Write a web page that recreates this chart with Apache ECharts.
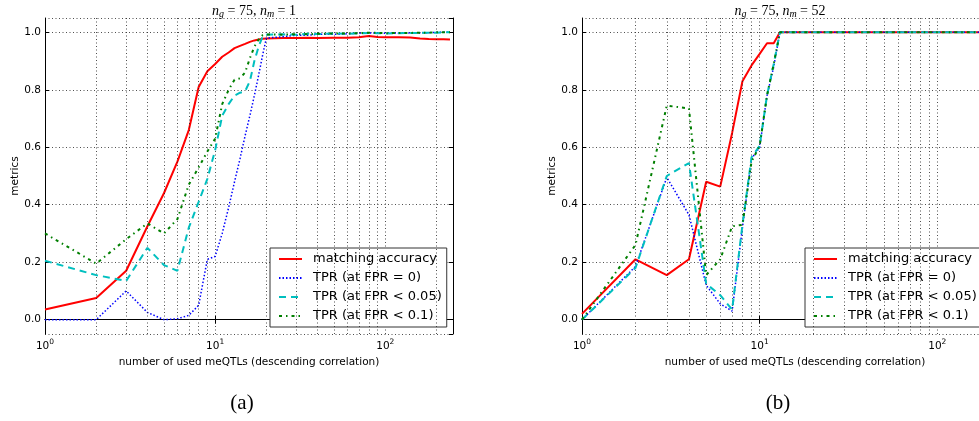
<!DOCTYPE html>
<html>
<head>
<meta charset="utf-8">
<script src="https://cdn.jsdelivr.net/npm/echarts@6/dist/echarts.min.js"></script>
<style>
  html, body { margin: 0; padding: 0; background: #fff; }
  #chart { width: 979px; height: 421px; }
</style>
</head>
<body>
<div id="chart"></div>
<script>
// ---- data -------------------------------------------------------------
// (a) n_g = 75, n_m = 1
const nA = [1, 2, 3, 4, 5, 6, 7, 8, 9, 10, 11, 12, 13, 14, 15, 16, 17, 18, 19, 20,
            25, 30, 35, 40, 50, 60, 70, 80, 90, 100, 120, 140, 160, 180, 200, 220, 240];
const accA = [0.035, 0.075, 0.17, 0.325, 0.44, 0.55, 0.66, 0.81, 0.865, 0.89,
              0.915, 0.93, 0.945, 0.953, 0.96, 0.967, 0.972, 0.975, 0.978, 0.979,
              0.98, 0.98, 0.981, 0.98, 0.981, 0.981, 0.983, 0.987, 0.984, 0.983,
              0.983, 0.982, 0.979, 0.977, 0.976, 0.976, 0.975];
const tpr0A = [0.0, 0.0, 0.10, 0.025, 0.0, 0.003, 0.015, 0.05, 0.21, 0.22,
               0.30, 0.39, 0.48, 0.56, 0.64, 0.71, 0.78, 0.85, 0.92, 0.98,
               0.985, 0.99, 0.99, 0.993, 0.993, 0.995, 0.997, 0.998, 0.998, 0.997,
               0.997, 0.998, 0.998, 0.999, 1.0, 1.0, 1.0];
const tpr05A = [0.205, 0.155, 0.135, 0.25, 0.19, 0.17, 0.32, 0.41, 0.49, 0.59,
                0.71, 0.75, 0.78, 0.79, 0.795, 0.83, 0.90, 0.95, 0.985, 0.992,
                0.993, 0.992, 0.995, 0.994, 0.996, 0.995, 0.997, 0.998, 0.997, 0.996,
                0.997, 0.998, 0.998, 0.999, 0.999, 1.0, 1.0];
const tpr1A = [0.30, 0.195, 0.28, 0.335, 0.30, 0.35, 0.47, 0.53, 0.585, 0.63,
               0.75, 0.80, 0.835, 0.84, 0.86, 0.91, 0.95, 0.975, 0.99, 0.993,
               0.992, 0.994, 0.993, 0.995, 0.996, 0.996, 0.997, 0.999, 0.998, 0.997,
               0.998, 0.998, 0.999, 0.999, 1.0, 1.0, 1.0];

// (b) n_g = 75, n_m = 52
const nB = [1, 2, 3, 4, 5, 6, 7, 8, 9, 10, 11, 12, 13, 15, 20, 30, 50, 100, 150, 200, 240];
const accB = [0.02, 0.21, 0.155, 0.21, 0.48, 0.463, 0.65, 0.83, 0.885, 0.925,
              0.962, 0.962, 1.0, 1.0, 1.0, 1.0, 1.0, 1.0, 1.0, 1.0, 1.0];
const tpr0B = [0.0, 0.185, 0.495, 0.365, 0.12, 0.055, 0.03, 0.32, 0.56, 0.60,
               0.78, 0.88, 1.0, 1.0, 1.0, 1.0, 1.0, 1.0, 1.0, 1.0, 1.0];
const tpr05B = [0.0, 0.18, 0.50, 0.545, 0.125, 0.085, 0.035, 0.33, 0.565, 0.605,
                0.78, 0.89, 1.0, 1.0, 1.0, 1.0, 1.0, 1.0, 1.0, 1.0, 1.0];
const tpr1B = [0.0, 0.26, 0.745, 0.735, 0.155, 0.21, 0.325, 0.33, 0.55, 0.605,
               0.78, 0.89, 1.0, 1.0, 1.0, 1.0, 1.0, 1.0, 1.0, 1.0, 1.0];

const seriesNames = ['matching accuracy', 'TPR (at FPR = 0)', 'TPR (at FPR < 0.05)', 'TPR (at FPR < 0.1)'];
const minorTicks = [2, 3, 4, 5, 6, 7, 8, 9, 20, 30, 40, 50, 60, 70, 80, 90, 200];
const xName = 'number of used meQTLs (descending correlation)';
const yName = 'metrics';

// ---- styling ----------------------------------------------------------
const FONT = 'DejaVu Sans';
const SERIF = 'Liberation Serif';
const styles = [
  { color: '#ff0000', width: 2, type: 'solid' },
  { color: '#0000ff', width: 1.5, type: [1.5, 2] },
  { color: '#00bfbf', width: 2, type: [7, 5] },
  { color: '#007f00', width: 2, type: [3, 4, 1.5, 4] }
];
const gridDot = { color: '#222', width: 0.8, type: [1, 2.5] };

function pair(xs, ys) { return xs.map((x, i) => [x, ys[i]]); }

function logLabel(v) {
  const e = Math.log10(v);
  if (Math.abs(e - Math.round(e)) < 1e-9) return '{b|10}{s|' + Math.round(e) + '}';
  return '';
}

function xAxes(gridIndex) {
  const base = {
    type: 'log', logBase: 10, min: 1, max: 250, gridIndex,
    axisLine: { show: true, lineStyle: { color: '#000', width: 1 } },
    axisTick: { show: true, inside: true, length: 4, lineStyle: { color: '#000' } }
  };
  return [
    Object.assign({}, base, {
      position: 'bottom',
      name: xName, nameLocation: 'middle', nameGap: 18,
      nameTextStyle: { fontFamily: FONT, fontSize: 10.5, color: '#000' },
      axisLabel: {
        formatter: logLabel, margin: 4, color: '#000',
        rich: {
          b: { fontFamily: FONT, fontSize: 10.5, color: '#000', verticalAlign: 'bottom' },
          s: { fontFamily: FONT, fontSize: 7.5, color: '#000', verticalAlign: 'bottom', padding: [0, 0, 6, 0] }
        }
      },
      splitLine: { show: true, lineStyle: gridDot }
    }),
    Object.assign({}, base, {
      position: 'top', axisLabel: { show: false }, splitLine: { show: false }
    })
  ];
}

function yAxes(gridIndex) {
  const base = {
    type: 'value', min: -0.05, max: 1.05, splitNumber: 5, gridIndex,
    axisLine: { show: true, lineStyle: { color: '#000', width: 1 } },
    axisTick: { show: true, inside: true, length: 4, lineStyle: { color: '#000' } }
  };
  return [
    Object.assign({}, base, {
      position: 'left',
      name: yName, nameLocation: 'middle', nameGap: 23, nameRotate: 90,
      nameTextStyle: { fontFamily: FONT, fontSize: 10.5, color: '#000' },
      axisLabel: {
        margin: 4, fontFamily: FONT, fontSize: 10.5, color: '#000',
        showMinLabel: false, showMaxLabel: false,
        formatter: v => (Math.abs(v * 5 - Math.round(v * 5)) < 1e-9 ? v.toFixed(1) : '')
      },
      splitLine: { show: true, lineStyle: gridDot }
    }),
    Object.assign({}, base, {
      position: 'right', axisLabel: { show: false }, splitLine: { show: false }
    })
  ];
}

function panelSeries(axisBase, xs, cols) {
  const out = cols.map((ys, k) => ({
    type: 'line', name: seriesNames[k],
    xAxisIndex: axisBase, yAxisIndex: axisBase,
    data: pair(xs, ys), symbol: 'none', animation: false,
    lineStyle: styles[k], itemStyle: { color: styles[k].color },
    z: 3 + k
  }));
  // minor vertical grid lines of the log axis
  out.push({
    type: 'line', name: 'minor grid', xAxisIndex: axisBase, yAxisIndex: axisBase,
    data: [], silent: true, animation: false,
    markLine: {
      silent: true, symbol: 'none', label: { show: false }, animation: false,
      lineStyle: gridDot, emphasis: { disabled: true },
      data: minorTicks.map(v => ({ xAxis: v }))
    }
  });
  return out;
}

function legendAt(left) {
  return {
    data: seriesNames, orient: 'vertical', left, top: 248,
    itemWidth: 23, itemHeight: 14, itemGap: 5,
    padding: [4, 5, 4, 8],
    backgroundColor: '#fff', borderColor: '#333', borderWidth: 1, borderRadius: 0,
    selectedMode: false,
    itemStyle: { opacity: 0 },
    textStyle: { fontFamily: FONT, fontSize: 13, color: '#000', lineHeight: 14, padding: [0, 0, 0, 6] }
  };
}

function titleRich() {
  return {
    i: { fontFamily: SERIF, fontStyle: 'italic', fontWeight: 'normal', fontSize: 14, color: '#000' },
    s: { fontFamily: SERIF, fontStyle: 'italic', fontWeight: 'normal', fontSize: 10, color: '#000', padding: [5, 0, 0, 0] },
    r: { fontFamily: SERIF, fontWeight: 'normal', fontSize: 14, color: '#000' }
  };
}

const chart = echarts.init(document.getElementById('chart'), null, { renderer: 'canvas' });
chart.setOption({
  backgroundColor: '#fff',
  animation: false,
  title: [
    { text: '{i|n}{s|g}{r| = 75, }{i|n}{s|m}{r| = 1}', left: 249, top: -1, textAlign: 'center',
      textStyle: { fontWeight: 'normal', rich: titleRich() } },
    { text: '{i|n}{s|g}{r| = 75, }{i|n}{s|m}{r| = 52}', left: 775, top: -1, textAlign: 'center',
      textStyle: { fontWeight: 'normal', rich: titleRich() } },
    { text: '(a)', left: 237, top: 388, textAlign: 'center',
      textStyle: { fontFamily: SERIF, fontSize: 21, fontWeight: 'normal', color: '#000' } },
    { text: '(b)', left: 773, top: 388, textAlign: 'center',
      textStyle: { fontFamily: SERIF, fontSize: 21, fontWeight: 'normal', color: '#000' } }
  ],
  grid: [
    { left: 45, top: 18, width: 408, height: 316, outerBoundsMode: 'none', containLabel: false },
    { left: 582, top: 18, width: 426, height: 316, outerBoundsMode: 'none', containLabel: false }
  ],
  xAxis: [...xAxes(0), ...xAxes(1)].map((a, i) => i < 2 ? a : Object.assign(a, { gridIndex: 1 })),
  yAxis: [...yAxes(0), ...yAxes(1)].map((a, i) => i < 2 ? a : Object.assign(a, { gridIndex: 1 })),
  legend: [legendAt(270), legendAt(805)],
  series: [
    ...panelSeries(0, nA, [accA, tpr0A, tpr05A, tpr1A]),
    ...panelSeries(2, nB, [accB, tpr0B, tpr05B, tpr1B])
  ]
});
</script>
</body>
</html>
